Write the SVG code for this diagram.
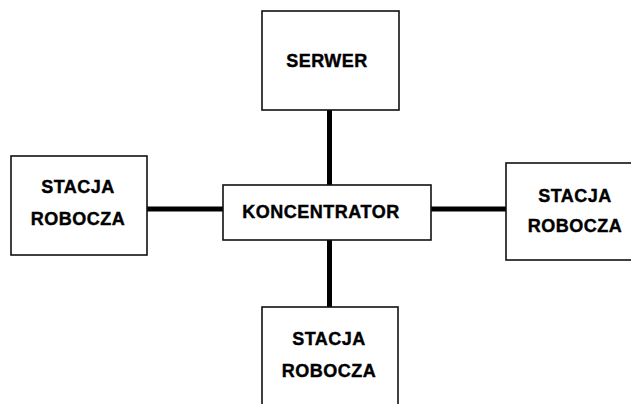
<svg xmlns="http://www.w3.org/2000/svg" width="631" height="404" viewBox="0 0 631 404">
<style>
.box{fill:#fff;stroke:#111;stroke-width:1.6}
.lbl{font-family:"Liberation Sans",Arial,sans-serif;font-weight:bold;font-size:18px;fill:#000;stroke:#000;stroke-width:0.4;text-anchor:middle;letter-spacing:0.5px}
.wire{stroke:#000;stroke-width:5;fill:none}
</style>
<rect width="631" height="404" fill="#fff"/>
<g id="connectors">
<line class="wire" x1="329.5" y1="110" x2="329.5" y2="185"/>
<line class="wire" x1="329.5" y1="240" x2="329.5" y2="307"/>
<line class="wire" x1="147" y1="209" x2="223" y2="209"/>
<line class="wire" x1="431" y1="209" x2="506" y2="209"/>
</g>
<g id="serwer">
<rect class="box" x="262" y="11" width="137" height="99"/>
<text class="lbl" x="327" y="67">SERWER</text>
</g>
<g id="koncentrator">
<rect class="box" x="223" y="185" width="208" height="55"/>
<text class="lbl" x="321" y="218">KONCENTRATOR</text>
</g>
<g id="stacja-lewa">
<rect class="box" x="11" y="156" width="136" height="99"/>
<text class="lbl" x="78" y="193">STACJA</text>
<text class="lbl" x="78" y="225">ROBOCZA</text>
</g>
<g id="stacja-prawa">
<rect class="box" x="506" y="163" width="135" height="97"/>
<text class="lbl" x="575" y="202">STACJA</text>
<text class="lbl" x="575" y="232">ROBOCZA</text>
</g>
<g id="stacja-dolna">
<rect class="box" x="262" y="307" width="136" height="110"/>
<text class="lbl" x="329" y="345">STACJA</text>
<text class="lbl" x="329" y="377">ROBOCZA</text>
</g>
</svg>
